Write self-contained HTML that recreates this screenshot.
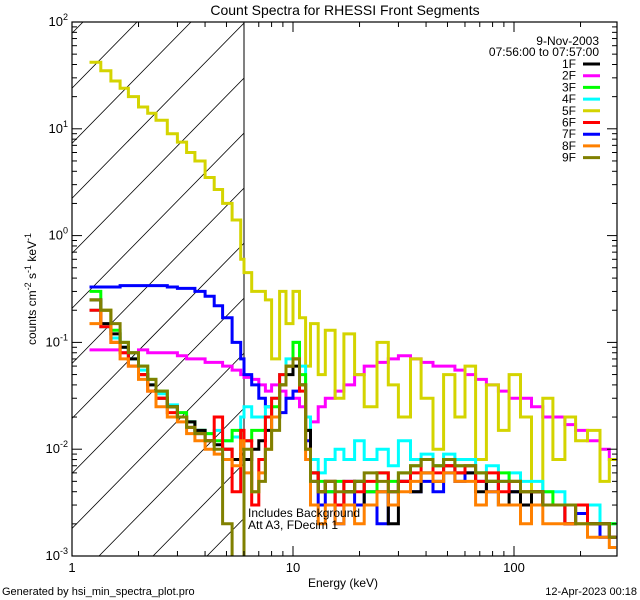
<!DOCTYPE html>
<html><head><meta charset="utf-8"><style>
body{margin:0;background:#fff;}
svg{display:block;font-family:"Liberation Sans",sans-serif;}
</style></head><body>
<svg id="chart" width="640" height="600" viewBox="0 0 640 600">
<rect width="640" height="600" fill="#fff"/>
<defs><clipPath id="pc"><rect x="72" y="22" width="545" height="534"/></clipPath>
<clipPath id="hc"><rect x="72" y="22" width="172" height="534"/></clipPath></defs>
<text x="345" y="15" font-size="14" text-anchor="middle">Count Spectra for RHESSI Front Segments</text>
<g id="hatch" clip-path="url(#hc)" stroke="#000" stroke-width="0.8"></g>
<line x1="244" y1="22" x2="244" y2="556" stroke="#000" stroke-width="1"/>
<g id="series" clip-path="url(#pc)"></g>
<g id="axes" stroke="#000" fill="none"></g>
<g id="labels" font-size="13"></g>
<text x="599" y="45" font-size="12" text-anchor="end">9-Nov-2003</text>
<text x="599" y="56" font-size="12" text-anchor="end">07:56:00 to 07:57:00</text>
<g id="legend" font-size="12"></g>
<text x="248" y="517" font-size="12">Includes Background</text>
<text x="248" y="529" font-size="12">Att A3, FDecim 1</text>
<text x="343" y="587" font-size="12" text-anchor="middle">Energy (keV)</text>
<text transform="translate(36,289) rotate(-90)" font-size="12" text-anchor="middle">counts cm<tspan dy="-5" font-size="9">-2</tspan><tspan dy="5"> s</tspan><tspan dy="-5" font-size="9">-1</tspan><tspan dy="5"> keV</tspan><tspan dy="-5" font-size="9">-1</tspan></text>
<text x="2" y="595" font-size="11">Generated by hsi_min_spectra_plot.pro</text>
<text x="637" y="595" font-size="11" text-anchor="end">12-Apr-2023 00:18</text>
</svg>
<script>
const edges=[1.2,1.35,1.5,1.65,1.8,2.0,2.2,2.4,2.7,3.0,3.3,3.6,4.0,4.4,4.8,5.3,5.8,6.0,6.5,7.0,7.5,8.0,8.7,9.3,10,10.7,11.4,12,13,14,15.5,17,19,21,24,27,30,34,38,43,48,54,60,67,75,85,95,107,120,135,150,170,190,215,245,270,290];
const seriesNames=["1F","2F","3F","4F","5F","6F","7F","8F","9F"];
const s1F=[0.25,0.15,0.12,0.09,0.07,0.05,0.04,0.03,0.025,0.02,0.018,0.015,0.012,0.011,0.01,0.008,0.009,0.008,0.01,0.012,0.015,0.02,0.04,0.05,0.06,0.04,0.015,0.006,0.004,0.005,0.003,0.004,0.005,0.003,0.004,0.002,0.005,0.004,0.006,0.005,0.007,0.006,0.006,0.004,0.005,0.003,0.004,0.003,0.004,0.003,0.003,0.002,0.003,0.002,0.002,0.0015];
const s2F=[0.085,0.085,0.085,0.08,0.08,0.085,0.08,0.08,0.08,0.075,0.07,0.07,0.065,0.065,0.06,0.055,0.05,0.047,0.045,0.04,0.035,0.04,0.035,0.03,0.03,0.025,0.02,0.018,0.025,0.03,0.035,0.04,0.05,0.06,0.065,0.07,0.075,0.07,0.065,0.06,0.06,0.055,0.05,0.045,0.04,0.035,0.03,0.03,0.025,0.02,0.02,0.017,0.015,0.012,0.01,0.008];
const s3F=[0.3,0.2,0.13,0.1,0.08,0.06,0.045,0.035,0.025,0.022,0.018,0.015,0.014,0.012,0.012,0.015,0.01,0.012,0.015,0.015,0.02,0.025,0.04,0.06,0.1,0.05,0.015,0.006,0.005,0.004,0.005,0.004,0.005,0.004,0.006,0.005,0.006,0.007,0.008,0.007,0.008,0.007,0.007,0.006,0.005,0.006,0.005,0.004,0.004,0.004,0.003,0.003,0.003,0.002,0.002,0.002];
const s4F=[0.2,0.14,0.11,0.09,0.07,0.055,0.04,0.033,0.026,0.02,0.018,0.015,0.014,0.015,0.012,0.013,0.02,0.025,0.02,0.02,0.025,0.03,0.05,0.07,0.1,0.06,0.02,0.008,0.006,0.008,0.01,0.008,0.012,0.008,0.01,0.007,0.012,0.008,0.009,0.007,0.009,0.008,0.008,0.006,0.007,0.005,0.006,0.005,0.005,0.004,0.004,0.003,0.003,0.003,0.002,0.002];
const s5F=[42,35,28,24,20,16,14,12,9,7.5,6,5,3.5,2.7,2,1.4,0.6,0.45,0.3,0.3,0.25,0.07,0.3,0.15,0.3,0.17,0.06,0.15,0.05,0.13,0.03,0.12,0.05,0.025,0.1,0.04,0.02,0.07,0.03,0.01,0.05,0.02,0.06,0.008,0.04,0.015,0.05,0.02,0.003,0.03,0.008,0.02,0.012,0.015,0.005,0.008];
const s6F=[0.2,0.14,0.1,0.08,0.06,0.05,0.035,0.03,0.022,0.02,0.016,0.014,0.012,0.02,0.01,0.004,0.015,0.012,0.003,0.008,0.02,0.03,0.05,0.06,0.07,0.035,0.01,0.006,0.004,0.005,0.003,0.005,0.004,0.005,0.006,0.004,0.005,0.006,0.008,0.006,0.007,0.006,0.007,0.005,0.006,0.004,0.005,0.004,0.004,0.003,0.003,0.002,0.003,0.002,0.002,0.0015];
const s7F=[0.33,0.33,0.33,0.34,0.34,0.34,0.34,0.34,0.33,0.32,0.32,0.3,0.27,0.22,0.17,0.1,0.07,0.05,0.04,0.03,0.025,0.02,0.022,0.03,0.035,0.04,0.012,0.005,0.003,0.004,0.002,0.005,0.003,0.004,0.002,0.004,0.005,0.004,0.005,0.004,0.006,0.005,0.006,0.005,0.004,0.005,0.004,0.003,0.004,0.003,0.003,0.002,0.0025,0.002,0.0015,0.0015];
const s8F=[0.15,0.2,0.1,0.07,0.06,0.045,0.035,0.025,0.02,0.018,0.014,0.012,0.01,0.009,0.008,0.007,0.012,0.006,0.004,0.006,0.01,0.02,0.04,0.06,0.07,0.04,0.008,0.003,0.002,0.003,0.002,0.003,0.002,0.003,0.004,0.003,0.004,0.005,0.006,0.005,0.006,0.005,0.005,0.003,0.004,0.003,0.003,0.002,0.003,0.002,0.002,0.002,0.002,0.0015,0.0015,0.0012];
const s9F=[0.25,0.2,0.15,0.1,0.08,0.06,0.045,0.035,0.025,0.02,0.016,0.014,0.012,0.01,0.002,0.0005,0.0005,0.01,0.004,0.005,0.01,0.015,0.04,0.06,0.07,0.04,0.01,0.005,0.004,0.005,0.004,0.004,0.005,0.006,0.005,0.004,0.006,0.007,0.008,0.007,0.008,0.007,0.007,0.006,0.005,0.005,0.005,0.004,0.004,0.003,0.003,0.003,0.002,0.002,0.002,0.0015];
const xTickLabels=["1","10","100"];
const yTickExps=[-3,-2,-1,0,1,2];
const NS="http://www.w3.org/2000/svg";
const L=72,R=617,T=22,B=556;
const xDec=221,yDec=(B-T)/5;
function xs(e){return L+xDec*Math.log10(e);}
function ys(v){return T+yDec*(2-Math.log10(v));}
function mk(t,a,p){const e=document.createElementNS(NS,t);for(const k in a)e.setAttribute(k,a[k]);p.appendChild(e);return e;}
// hatch
const hg=document.getElementById('hatch');
for(let k=-12;k<4;k++){const x0=99+54*k;
 const ln=mk('line',{x1:x0,y1:B,x2:x0+524,y2:T},hg);
 
 }
// series
const colors=["#000","#ff00ff","#00ff00","#00ffff","#d4d400","#ff0000","#0000ff","#ff8000","#808000"];
const data=[s1F,s2F,s3F,s4F,s5F,s6F,s7F,s8F,s9F];
const sg=document.getElementById('series');
const order=[1,4,6,3,2,0,5,7,8];
order.forEach(i=>{const v=data[i];let d="";
 for(let j=0;j<v.length;j++){const y=ys(v[j]).toFixed(1);
  d+=(j==0?"M"+xs(edges[0]).toFixed(1)+","+y:"V"+y)+"H"+xs(edges[j+1]).toFixed(1);}
 const p=mk('path',{d:d,fill:"none",stroke:colors[i],"stroke-width":3,"stroke-linejoin":"miter"},sg);
 
 });
// axes
const ag=document.getElementById('axes');
const fr=mk('rect',{x:L,y:T,width:R-L,height:B-T,"stroke-width":1.2},ag);


const lg=document.getElementById('labels');
for(let dec=0;dec<3;dec++)for(let m=1;m<10;m++){const e=m*Math.pow(10,dec);const x=xs(e);if(x>R)break;
 const len=m==1?10:5;
 const t1=mk('line',{x1:x,y1:B,x2:x,y2:B-len},ag);
 const t2=mk('line',{x1:x,y1:T,x2:x,y2:T+len},ag);
 if(m==1){const tl=mk('text',{x:x,y:B+16,"text-anchor":"middle"},lg);tl.textContent=xTickLabels[dec];
  }}
yTickExps.forEach((ex,idx)=>{for(let m=1;m<10;m++){if(ex==2&&m>1)break;const y=ys(m*Math.pow(10,ex));const len=m==1?10:5;
 const t1=mk('line',{x1:L,y1:y,x2:L+len,y2:y},ag);
 const t2=mk('line',{x1:R,y1:y,x2:R-len,y2:y},ag);}
 const tl=mk('text',{x:L-4,y:ys(Math.pow(10,ex))+4,"text-anchor":"end"},lg);
 
 tl.innerHTML='10<tspan dy="-6" font-size="9">'+ex+'</tspan>';});
// legend
const leg=document.getElementById('legend');
seriesNames.forEach((n,i)=>{const y=68+i*11.7;
 const t=mk('text',{x:576,y:y,"text-anchor":"end"},leg);t.textContent=n;
 
 const l=mk('line',{x1:583,y1:y-4,x2:600,y2:y-4,stroke:colors[i],"stroke-width":3},leg);
 });
</script>
</body></html>
